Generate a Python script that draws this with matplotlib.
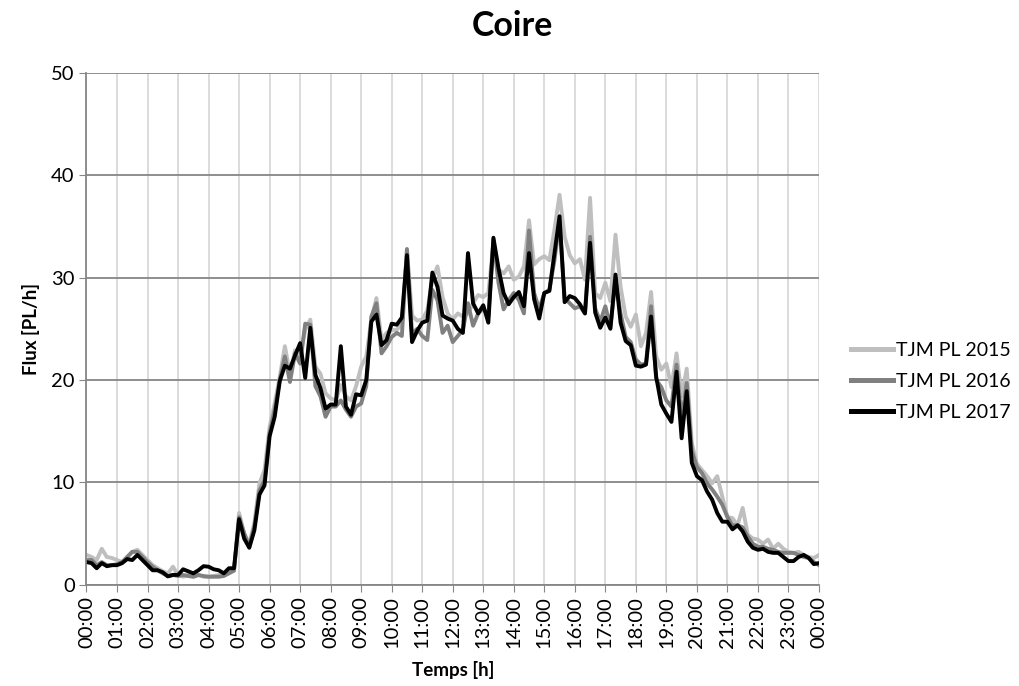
import numpy as np
import matplotlib.pyplot as plt

# heavy-vehicle hourly flow, 10-minute steps from 00:00 to 24:00
flux_2015 = [
    2.9, 2.7, 2.4, 3.5, 2.7, 2.6, 2.4, 2.2, 2.7, 3.2, 3.4, 2.9,
    2.4, 1.9, 1.6, 1.3, 1.1, 1.75, 0.94, 0.77, 0.94, 0.77, 0.94, 0.77,
    0.77, 0.84, 0.94, 1.1, 1.26, 1.4, 7.0, 5.0, 4.0, 6.0, 9.9, 11.2,
    15.4, 17.7, 20.3, 23.3, 20.6, 22.9, 22.4, 24.9, 25.9, 21.3, 20.6, 18.7,
    18.2, 18.0, 19.5, 18.4, 18.0, 19.4, 21.3, 22.3, 25.9, 28.0, 23.9, 24.6,
    24.9, 24.9, 25.5, 32.7, 26.3, 25.8, 25.9, 26.8, 29.8, 31.1, 28.1, 26.5,
    25.9, 26.5, 26.2, 26.5, 27.5, 28.3, 28.1, 28.5, 33.3, 30.8, 30.4, 31.1,
    29.8, 30.1, 31.1, 35.6, 31.3, 31.8, 32.1, 31.7, 34.7, 38.1, 34.0, 32.2,
    31.4, 31.8, 29.8, 37.8, 28.5, 28.0, 29.5, 27.7, 34.2, 29.1, 26.2, 25.2,
    26.4, 23.3, 24.6, 28.6, 22.3, 21.0, 21.6, 19.3, 22.6, 18.4, 21.1, 13.8,
    11.8, 11.2, 10.6, 9.9, 10.6, 8.6, 6.6, 6.5, 5.8, 7.5, 4.9, 4.5,
    4.4, 4.0, 4.4, 3.5, 4.0, 3.5, 3.2, 3.1, 3.2, 2.9, 2.7, 2.6, 2.9,
]
flux_2016 = [
    2.4, 2.4, 1.9, 2.2, 1.9, 1.9, 2.0, 2.2, 2.7, 3.2, 3.2, 2.7,
    2.2, 1.75, 1.4, 1.1, 0.84, 0.94, 0.84, 0.94, 0.84, 0.77, 0.94, 0.84,
    0.77, 0.77, 0.77, 0.84, 1.1, 1.36, 6.6, 5.0, 3.7, 5.7, 9.2, 10.2,
    14.8, 17.1, 20.0, 22.3, 19.8, 22.6, 21.6, 25.5, 25.4, 19.4, 18.4, 16.4,
    17.4, 17.4, 18.0, 17.1, 16.4, 17.4, 17.7, 19.4, 26.2, 27.5, 22.6, 23.3,
    24.2, 24.6, 24.3, 32.8, 24.5, 25.0, 24.3, 23.9, 28.8, 27.8, 24.6, 25.3,
    23.7, 24.3, 24.9, 27.5, 25.3, 26.5, 27.0, 26.2, 33.7, 29.5, 26.9, 27.8,
    28.5, 27.8, 26.5, 34.6, 28.5, 26.9, 28.5, 28.8, 31.7, 35.5, 28.0, 27.5,
    27.0, 27.2, 26.5, 34.0, 27.0, 25.7, 27.2, 25.2, 29.8, 26.5, 24.2, 23.7,
    22.0, 21.5, 21.6, 27.2, 20.0, 19.3, 18.0, 17.4, 21.5, 16.1, 19.7, 13.1,
    11.5, 10.9, 9.9, 9.3, 8.6, 7.8, 6.6, 5.8, 5.8, 5.6, 4.7, 4.0,
    3.7, 3.7, 3.5, 3.4, 3.2, 3.1, 3.1, 3.1, 2.9, 2.7, 2.6, 2.2, 1.9,
]
flux_2017 = [
    2.2, 2.1, 1.6, 2.1, 1.8, 1.9, 1.9, 2.1, 2.5, 2.4, 2.9, 2.4,
    1.9, 1.4, 1.4, 1.2, 0.8, 0.95, 0.95, 1.5, 1.3, 1.1, 1.4, 1.8,
    1.75, 1.5, 1.4, 1.1, 1.6, 1.6, 6.4, 4.5, 3.6, 5.3, 8.8, 9.7,
    14.5, 16.4, 19.9, 21.4, 21.1, 22.4, 23.6, 20.2, 25.1, 20.5, 19.2, 17.2,
    17.6, 17.6, 23.3, 17.4, 16.6, 18.6, 18.5, 20.0, 25.7, 26.4, 23.4, 23.9,
    25.5, 25.4, 26.1, 32.2, 23.7, 24.8, 25.6, 25.8, 30.5, 29.1, 26.3, 26.0,
    25.8, 25.0, 24.6, 32.4, 27.5, 26.5, 27.3, 25.6, 33.9, 30.9, 28.5, 27.4,
    28.1, 28.6, 27.2, 32.4, 27.9, 26.0, 28.5, 28.7, 32.4, 36.0, 27.6, 28.2,
    28.0, 27.4, 26.5, 33.4, 26.6, 25.1, 26.1, 25.0, 30.3, 25.6, 23.8, 23.4,
    21.4, 21.3, 21.5, 26.2, 20.3, 17.6, 16.7, 15.9, 20.8, 14.3, 18.9, 11.9,
    10.6, 10.2, 9.1, 8.3, 7.0, 6.15, 6.15, 5.4, 5.8, 5.2, 4.2, 3.6,
    3.4, 3.5, 3.2, 3.1, 3.1, 2.7, 2.3, 2.3, 2.7, 2.9, 2.6, 2.0, 2.1,
]
series_labels = ["TJM PL 2015", "TJM PL 2016", "TJM PL 2017"]
series_colors = ["#BFBFBF", "#808080", "#000000"]

hours = np.arange(len(flux_2017)) / 6.0
hour_ticks = list(range(25))
hour_labels = ["%02d:00" % (h % 24) for h in hour_ticks]

plt.rcParams["font.family"] = ["Lato", "DejaVu Sans"]

fig = plt.figure(figsize=(10.2, 6.86), dpi=100)
ax = fig.add_axes([0.0848, 0.1478, 0.7181, 0.7458])

for values, label, colour in zip([flux_2015, flux_2016, flux_2017],
                                 series_labels, series_colors):
    ax.plot(hours, values, color=colour, lw=2.8, label=label,
            solid_joinstyle="round")

ax.set_xlim(0, 24)
ax.set_ylim(0, 50)
ax.set_xticks(hour_ticks)
ax.set_xticklabels(hour_labels, rotation=90, fontsize=14.5)
ax.set_yticks(range(0, 51, 10))
ax.tick_params(axis="y", labelsize=14.5, length=5, color="#868686")
ax.tick_params(axis="x", length=5, color="#868686")

ax.grid(axis="x", color="#D9D9D9", lw=1.3)
ax.grid(axis="y", color="#868686", lw=1.3)
ax.set_axisbelow(True)
for side in ("top", "right"):
    ax.spines[side].set_visible(False)
for side in ("left", "bottom"):
    ax.spines[side].set_color("#868686")
    ax.spines[side].set_linewidth(1.3)

ax.set_xlabel("Temps [h]", fontsize=13.5, weight="bold", labelpad=9)
ax.set_ylabel("Flux [PL/h]", fontsize=13.5, weight="bold", labelpad=8)
fig.suptitle("Coire", x=0.502, y=0.985, fontsize=24.5, weight="bold")

leg = ax.legend(loc="center left", bbox_to_anchor=(0.834, 0.4446),
                bbox_transform=fig.transFigure, frameon=False, fontsize=14,
                handlelength=2.2, handletextpad=0.15, labelspacing=0.72,
                borderpad=0, borderaxespad=0)
for handle in leg.get_lines():
    handle.set_linewidth(3.6)

fig.savefig("out.png", dpi=100)
